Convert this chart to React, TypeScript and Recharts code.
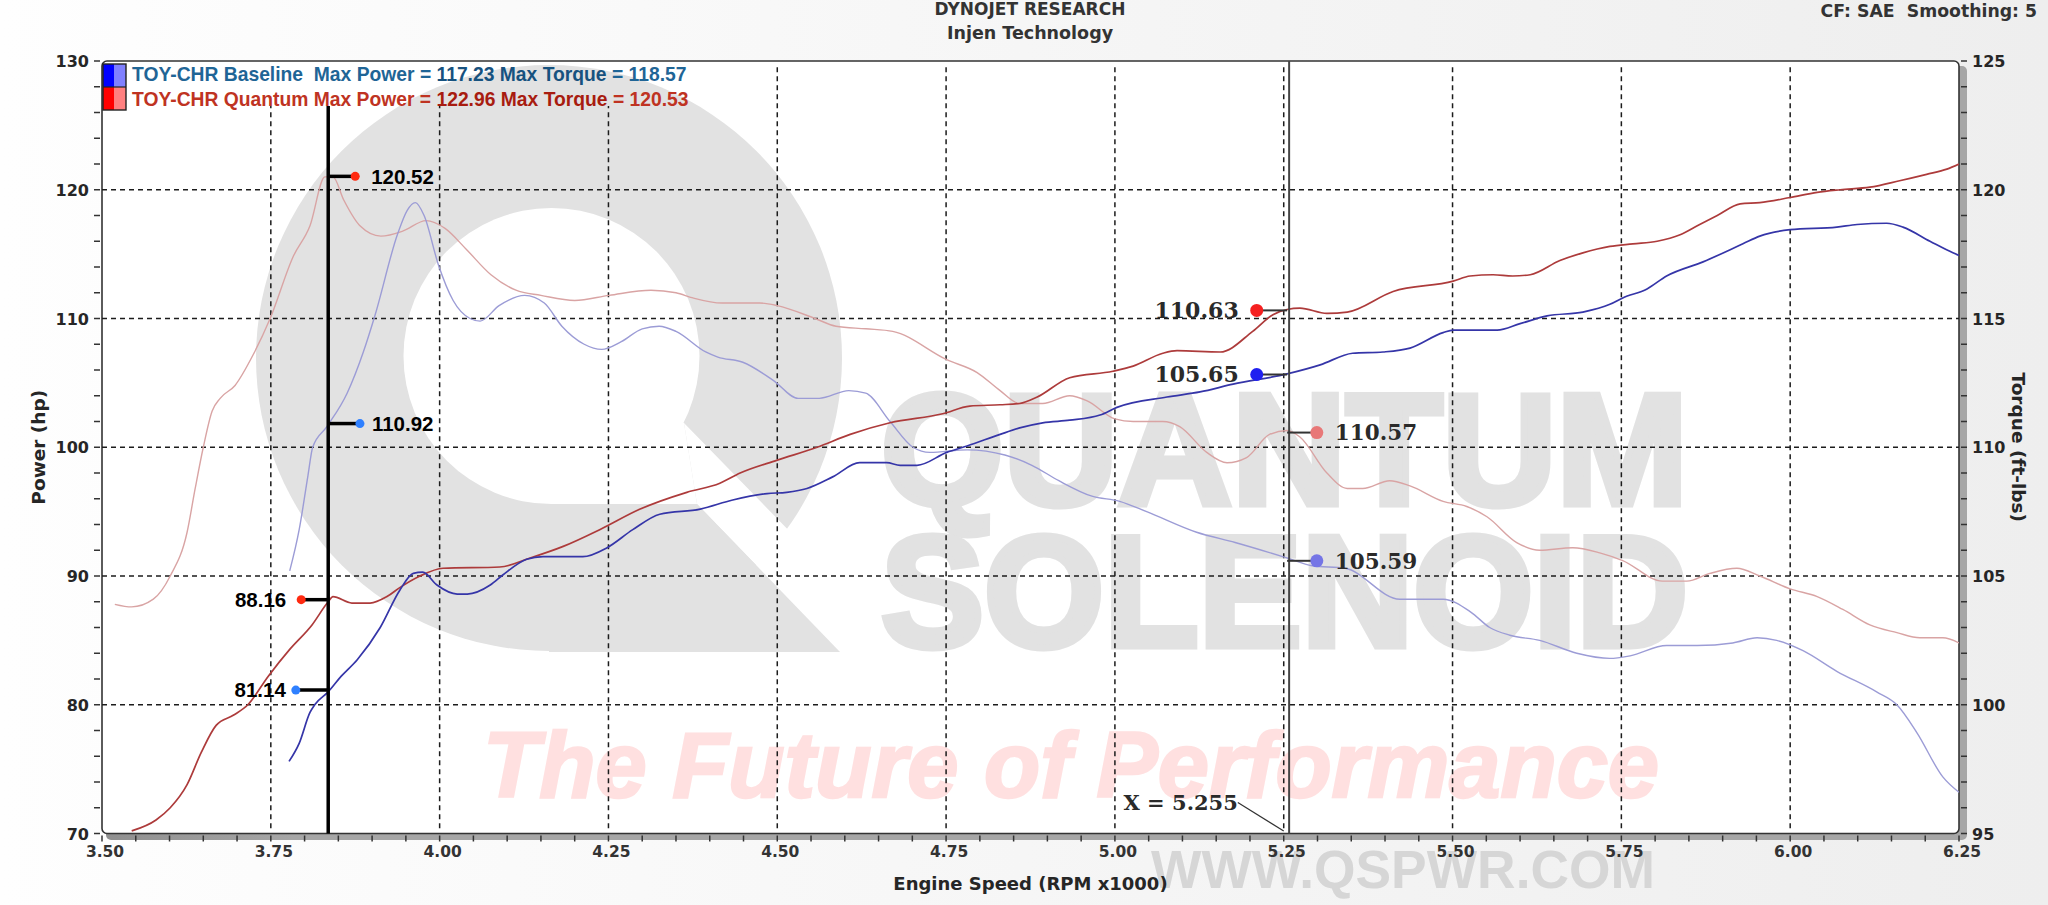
import {
  LineChart, Line, XAxis, YAxis, CartesianGrid, ReferenceLine, ReferenceDot,
} from 'recharts'

// --- axes ---
const rpmDomain = [3.5, 6.25]
const powerDomain = [70, 130]
const torqueDomain = [95, 125]
const rpmMajor = [3.5, 3.75, 4, 4.25, 4.5, 4.75, 5, 5.25, 5.5, 5.75, 6, 6.25]
const powerMajor = [70, 80, 90, 100, 110, 120, 130]
const torqueMajor = [95, 100, 105, 110, 115, 120, 125]
const rpmTicks = Array.from({ length: 56 }, (_, i) => Math.round((3.5 + i * 0.05) * 100) / 100)
const powerTicks = Array.from({ length: 31 }, (_, i) => 70 + i * 2)
const torqueTicks = Array.from({ length: 31 }, (_, i) => 95 + i)

// --- Quantum power (hp) ---
const quantumPowerRpm = [3.544, 3.58, 3.601, 3.626, 3.647, 3.669, 3.695, 3.716, 3.746, 3.778, 3.811, 3.835, 3.842, 3.87, 3.897, 3.922, 3.941, 3.971, 4.005, 4.089, 4.134, 4.183, 4.237, 4.297, 4.366, 4.415, 4.445, 4.5, 4.559, 4.608, 4.667, 4.745, 4.785, 4.83, 4.859, 4.885, 4.933, 4.997, 5.027, 5.071, 5.092, 5.156, 5.204, 5.234, 5.255, 5.274, 5.314, 5.344, 5.412, 5.501, 5.526, 5.56, 5.589, 5.615, 5.659, 5.693, 5.733, 5.767, 5.803, 5.837, 5.866, 5.892, 5.926, 5.955, 6, 6.04, 6.074, 6.118, 6.162, 6.202, 6.232, 6.25]
const quantumPower = [70.2, 71.05, 72, 73.8, 76.3, 78.4, 79.2, 80, 82.2, 84.3, 86.2, 88, 88.4, 87.9, 87.9, 88.4, 89.1, 90, 90.6, 90.7, 91.4, 92.3, 93.6, 95.2, 96.5, 97.2, 98, 99, 100, 101, 101.9, 102.6, 103.2, 103.3, 103.4, 103.9, 105.4, 105.9, 106.3, 107.3, 107.5, 107.4, 109, 110.3, 110.7, 110.8, 110.4, 110.5, 112.1, 112.9, 113.3, 113.4, 113.3, 113.4, 114.5, 115.1, 115.6, 115.8, 116, 116.5, 117.3, 118, 118.9, 119, 119.4, 119.8, 120, 120.2, 120.7, 121.2, 121.6, 122]

// --- Baseline power (hp) ---
const baselinePowerRpm = [3.777, 3.792, 3.808, 3.815, 3.835, 3.854, 3.878, 3.912, 3.941, 3.961, 3.975, 3.996, 4.026, 4.041, 4.075, 4.094, 4.129, 4.153, 4.212, 4.248, 4.286, 4.326, 4.386, 4.434, 4.485, 4.514, 4.544, 4.582, 4.622, 4.662, 4.682, 4.707, 4.751, 4.781, 4.83, 4.859, 4.893, 4.933, 4.978, 5.003, 5.077, 5.126, 5.175, 5.255, 5.304, 5.352, 5.397, 5.437, 5.486, 5.501, 5.566, 5.6, 5.64, 5.693, 5.733, 5.752, 5.788, 5.817, 5.871, 5.93, 5.955, 6, 6.069, 6.099, 6.143, 6.167, 6.207, 6.241, 6.25]
const baselinePower = [75.6, 77, 79.4, 80, 81, 82.2, 83.5, 86, 88.9, 90.2, 90.3, 89.3, 88.6, 88.6, 89.3, 90.1, 91.3, 91.5, 91.5, 92.2, 93.6, 94.8, 95.2, 95.9, 96.4, 96.5, 96.8, 97.7, 98.8, 98.8, 98.6, 98.6, 99.6, 100.1, 101, 101.5, 101.9, 102.1, 102.5, 103.1, 103.9, 104.3, 104.9, 105.7, 106.4, 107.3, 107.4, 107.7, 108.9, 109.1, 109.1, 109.6, 110.2, 110.5, 111.1, 111.6, 112.3, 113.3, 114.4, 115.8, 116.4, 116.9, 117.1, 117.3, 117.4, 117.1, 116, 115.1, 114.9]

// --- Quantum torque (ft-lbs) ---
const quantumTorqueRpm = [3.519, 3.544, 3.576, 3.601, 3.626, 3.638, 3.65, 3.663, 3.675, 3.697, 3.724, 3.749, 3.783, 3.808, 3.83, 3.842, 3.858, 3.882, 3.913, 3.946, 3.98, 4.008, 4.039, 4.076, 4.113, 4.15, 4.2, 4.251, 4.313, 4.35, 4.375, 4.418, 4.474, 4.5, 4.556, 4.587, 4.631, 4.671, 4.751, 4.796, 4.83, 4.859, 4.893, 4.933, 4.959, 5, 5.027, 5.071, 5.096, 5.136, 5.166, 5.195, 5.229, 5.255, 5.274, 5.314, 5.344, 5.367, 5.407, 5.437, 5.486, 5.521, 5.551, 5.595, 5.629, 5.678, 5.718, 5.752, 5.811, 5.847, 5.881, 5.921, 5.955, 6, 6.04, 6.078, 6.118, 6.158, 6.192, 6.226, 6.25]
const quantumTorque = [103.9, 103.8, 104.1, 105, 106.7, 108.4, 110, 111.4, 111.9, 112.4, 113.6, 115, 117.4, 118.6, 120.5, 120.5, 119.6, 118.6, 118.2, 118.4, 118.8, 118.5, 117.7, 116.7, 116.1, 115.9, 115.7, 115.9, 116.1, 116, 115.8, 115.6, 115.6, 115.5, 115, 114.7, 114.6, 114.5, 113.4, 112.9, 112.2, 111.7, 111.7, 112, 111.8, 111.1, 111, 111, 110.8, 109.8, 109.4, 109.6, 110.5, 110.65, 110.4, 109, 108.4, 108.4, 108.7, 108.5, 107.9, 107.7, 107.3, 106.3, 106, 106.1, 105.9, 105.6, 104.8, 104.8, 105.1, 105.3, 105, 104.5, 104.2, 103.7, 103.1, 102.8, 102.6, 102.6, 102.4]

// --- Baseline torque (ft-lbs) ---
const baselineTorqueRpm = [3.778, 3.792, 3.805, 3.812, 3.833, 3.863, 3.887, 3.904, 3.938, 3.952, 3.964, 3.977, 3.998, 4.02, 4.045, 4.06, 4.088, 4.126, 4.155, 4.181, 4.214, 4.24, 4.269, 4.3, 4.325, 4.35, 4.394, 4.412, 4.449, 4.494, 4.531, 4.562, 4.606, 4.631, 4.667, 4.701, 4.726, 4.781, 4.837, 4.877, 4.917, 4.966, 5.007, 5.047, 5.121, 5.178, 5.255, 5.292, 5.341, 5.422, 5.486, 5.527, 5.555, 5.585, 5.629, 5.684, 5.733, 5.763, 5.817, 5.862, 5.915, 5.951, 5.98, 6.019, 6.069, 6.128, 6.158, 6.188, 6.226, 6.25]
const baselineTorque = [105.2, 106.8, 108.9, 110, 110.8, 112.1, 113.7, 115.1, 118.3, 119.2, 119.5, 119, 117.1, 115.7, 115, 114.9, 115.5, 115.9, 115.6, 114.7, 114, 113.8, 114.1, 114.6, 114.7, 114.5, 113.7, 113.5, 113.3, 112.6, 111.9, 111.9, 112.2, 112.1, 111, 110, 109.8, 109.9, 109.7, 109.3, 108.7, 108.1, 107.9, 107.5, 106.7, 106.3, 105.7, 105.4, 105.3, 104.1, 104.1, 103.6, 103, 102.7, 102.5, 102, 101.8, 101.9, 102.3, 102.3, 102.4, 102.6, 102.5, 102.1, 101.3, 100.5, 100, 98.9, 97.2, 96.6]

// --- cursors and their readouts ---
const leftCursorRpm = 3.835
const rightCursorRpm = 5.255
const leftPowerReadouts = [88.16, 81.14]
const leftPowerDotRpm = [3.795, 3.787]
const leftTorqueReadouts = [120.52, 110.92]
const leftTorqueDotRpm = [3.875, 3.882]
const rightPowerReadouts = [110.63, 105.65]
const rightTorqueReadouts = [110.57, 105.59]
const rightPowerDotRpm = 5.21
const rightTorqueDotRpm = 5.299

const toPoints = (rpm: number[], y: number[]) => rpm.map((r, i) => ({ rpm: r, y: y[i] }))

const INK = '#262626'
const SANS = '"DejaVu Sans", sans-serif'
const ARIAL = '"Liberation Sans", Arial, sans-serif'
const SERIF = '"DejaVu Serif", serif'
const WATERMARK = '#e2e2e2'

function XTick({ x, y, payload }: any) {
  const major = rpmMajor.includes(payload.value)
  return (
    <g>
      <line x1={x} x2={x} y1={y} y2={y + 6} stroke="#333" strokeWidth={1.5} />
      {major && (
        <text x={x + 3} y={y + 21} textAnchor="middle" fontFamily={SANS} fontWeight={700} fontSize={15.5} fill="#333">
          {payload.value.toFixed(2)}
        </text>
      )}
    </g>
  )
}

function YTick({ x, y, payload, side, majors }: any) {
  const major = majors.includes(payload.value)
  const dir = side === 'left' ? -1 : 1
  return (
    <g>
      <line x1={x} x2={x + dir * 6} y1={y} y2={y} stroke="#333" strokeWidth={1.5} />
      {major && (
        <text
          x={side === 'left' ? x - 11 : x + 11}
          y={y + 6}
          textAnchor={side === 'left' ? 'end' : 'start'}
          fontFamily={SANS}
          fontWeight={700}
          fontSize={16}
          fill={INK}
        >
          {payload.value}
        </text>
      )}
    </g>
  )
}

// dot plus its number, the number sits at a fixed pixel offset from the dot
const cursorDot = (label: string, color: string, r: number, dx: number, font: string, size: number) => (p: any) => (
  <g>
    <circle cx={p.cx} cy={p.cy} r={r} fill={color} />
    <text
      x={p.cx + dx}
      y={p.cy + size * 0.36}
      textAnchor={dx < 0 ? 'end' : 'start'}
      fontFamily={font}
      fontWeight={700}
      fontSize={size}
      fill={font === SERIF ? '#2a2a2a' : '#000'}
    >
      {label}
    </text>
  </g>
)

function Backdrop() {
  return (
    <svg width={2048} height={905} style={{ position: 'absolute', left: 0, top: 0 }}>
      <defs>
        <linearGradient id="page" x1="0" x2="1" y1="0" y2="0">
          <stop offset="0" stopColor="#fefefe" />
          <stop offset="1" stopColor="#eeeeee" />
        </linearGradient>
        <linearGradient id="band" x1="0" x2="1" y1="0" y2="0">
          <stop offset="0" stopColor="#8f8f8f" />
          <stop offset="0.1" stopColor="#a6a6a6" />
          <stop offset="1" stopColor="#a6a6a6" />
        </linearGradient>
      </defs>
      <rect width={2048} height={905} fill="url(#page)" />

      <rect x={106} y={66} width={1861} height={774} rx={5} fill="url(#band)" />
      <rect x={102} y={61} width={1857} height={772.5} rx={5} fill="#fff" stroke="#333" strokeWidth={1.6} />

      {/* Q logo */}
      <circle cx={549} cy={358} r={293} fill={WATERMARK} />
      <polygon points="684,423 800,542 900,542 900,652 840,652 697,504" fill="#fff" />
      <polygon points="549,652 840,652 697,504 549,504" fill={WATERMARK} />
      <circle cx={551.5} cy={356} r={148} fill="#fff" />
      <polygon points="551,504 697,504 684,423 551,356" fill="#fff" />

      <text x={881} y={504} fontFamily={ARIAL} fontWeight={700} fontSize={158} fill={WATERMARK} stroke={WATERMARK} strokeWidth={7} textLength={807} lengthAdjust="spacingAndGlyphs">QUANTUM</text>
      <text x={881} y={646} fontFamily={ARIAL} fontWeight={700} fontSize={158} fill={WATERMARK} stroke={WATERMARK} strokeWidth={7} textLength={807} lengthAdjust="spacingAndGlyphs">SOLENOID</text>
      <text x={483} y={797} fontFamily={ARIAL} fontWeight={700} fontStyle="italic" fontSize={93} fill="#ffe0e0" stroke="#ffe0e0" strokeWidth={2.5} textLength={1176} lengthAdjust="spacingAndGlyphs">The Future of Performance</text>
      <text x={1151} y={888} fontFamily={ARIAL} fontWeight={700} fontSize={53} fill="#d6d6d6" textLength={504} lengthAdjust="spacingAndGlyphs">WWW.QSPWR.COM</text>

      {/* legend */}
      <rect x={103} y={64} width={11.5} height={23} fill="#0000ff" />
      <rect x={114.5} y={64} width={11.5} height={23} fill="#8080ff" />
      <rect x={103} y={87} width={11.5} height={23} fill="#ff0000" />
      <rect x={114.5} y={87} width={11.5} height={23} fill="#ff8080" />
      <rect x={103} y={64} width={23} height={46} fill="none" stroke="#222" strokeWidth={1.4} />
      <line x1={103} x2={126} y1={87} y2={87} stroke="#222" strokeWidth={1.2} />
      <text x={132} y={81} fontFamily={ARIAL} fontWeight={700} fontSize={19.3} fill="#1f6596" style={{ whiteSpace: 'pre' }}>
        TOY-CHR Baseline  Max Power = <tspan fill="#17527f">117.23 Max Torque</tspan> = 118.57
      </text>
      <text x={132} y={106} fontFamily={ARIAL} fontWeight={700} fontSize={19.3} fill="#bf3322" style={{ whiteSpace: 'pre' }}>
        TOY-CHR Quantum Max Power = <tspan fill="#a81c10">122.96 Max Torque</tspan> = 120.53
      </text>

      {/* header */}
      <text x={1030} y={15} textAnchor="middle" fontFamily={SANS} fontWeight={700} fontSize={17} fill="#333">DYNOJET RESEARCH</text>
      <text x={1030} y={39} textAnchor="middle" fontFamily={SANS} fontWeight={700} fontSize={17.5} fill="#333">Injen Technology</text>
      <text x={2037} y={17} textAnchor="end" fontFamily={SANS} fontWeight={700} fontSize={17.3} fill="#333" style={{ whiteSpace: 'pre' }}>CF: SAE  Smoothing: 5</text>
    </svg>
  )
}

export default function App() {
  // verticals stop under the legend strip on the left part of the plot
  const gridTop = (rpm: number) => (rpm < 4.4 ? 126.5 : 129.6)

  return (
    <div style={{ position: 'absolute', left: 0, top: 0, width: 2048, height: 905, overflow: 'hidden' }}>
      <Backdrop />
      <div style={{ position: 'absolute', left: 0, top: 0 }}>
        <LineChart width={2048} height={905} margin={{ top: 61, right: 0, bottom: 0, left: 0 }}>
          <CartesianGrid
            xAxisId="rpm"
            yAxisId="power"
            vertical={false}
            horizontalValues={powerMajor.slice(1, -1)}
            stroke="#1c1c1c"
            strokeWidth={1.5}
            strokeDasharray="5 4"
          />
          <XAxis
            xAxisId="rpm"
            dataKey="rpm"
            type="number"
            domain={rpmDomain}
            ticks={rpmTicks}
            interval={0}
            height={71.5}
            axisLine={false}
            tickLine={false}
            tickSize={0}
            tick={<XTick />}
            allowDataOverflow
            label={{ value: 'Engine Speed (RPM x1000)', position: 'insideBottom', offset: 15, fontFamily: SANS, fontWeight: 700, fontSize: 18, fill: INK }}
          />
          <YAxis
            yAxisId="power"
            orientation="left"
            type="number"
            domain={powerDomain}
            ticks={powerTicks}
            interval={0}
            width={102}
            axisLine={false}
            tickLine={false}
            tickSize={0}
            tick={<YTick side="left" majors={powerMajor} />}
            allowDataOverflow
            label={{ value: 'Power (hp)', angle: -90, position: 'insideLeft', offset: 38, textAnchor: 'middle', fontFamily: SANS, fontWeight: 700, fontSize: 18.5, fill: INK }}
          />
          <YAxis
            yAxisId="torque"
            orientation="right"
            type="number"
            domain={torqueDomain}
            ticks={torqueTicks}
            interval={0}
            width={89}
            axisLine={false}
            tickLine={false}
            tickSize={0}
            tick={<YTick side="right" majors={torqueMajor} />}
            allowDataOverflow
            label={{ value: 'Torque (ft-lbs)', angle: 90, position: 'insideRight', offset: 29, textAnchor: 'middle', fontFamily: SANS, fontWeight: 700, fontSize: 18.5, fill: INK }}
          />

          {rpmMajor.slice(1, -1).map(r => (
            <ReferenceLine
              key={r}
              xAxisId="rpm"
              yAxisId="power"
              segment={[{ x: r, y: 70.4 }, { x: r, y: gridTop(r) }]}
              stroke="#1c1c1c"
              strokeWidth={1.5}
              strokeDasharray="5 4"
            />
          ))}

          <Line xAxisId="rpm" yAxisId="torque" data={toPoints(quantumTorqueRpm, quantumTorque)} dataKey="y" name="Quantum Torque" stroke="#d9a4a4" strokeWidth={1.4} dot={false} type="monotone" isAnimationActive={false} />
          <Line xAxisId="rpm" yAxisId="torque" data={toPoints(baselineTorqueRpm, baselineTorque)} dataKey="y" name="Baseline Torque" stroke="#9c9cd6" strokeWidth={1.4} dot={false} type="monotone" isAnimationActive={false} />
          <Line xAxisId="rpm" yAxisId="power" data={toPoints(quantumPowerRpm, quantumPower)} dataKey="y" name="Quantum Power" stroke="#ad3b3b" strokeWidth={1.7} dot={false} type="monotone" isAnimationActive={false} />
          <Line xAxisId="rpm" yAxisId="power" data={toPoints(baselinePowerRpm, baselinePower)} dataKey="y" name="Baseline Power" stroke="#3535a8" strokeWidth={1.7} dot={false} type="monotone" isAnimationActive={false} />

          {/* black cursor at 3.83 */}
          <ReferenceLine xAxisId="rpm" yAxisId="power" segment={[{ x: leftCursorRpm, y: 70 }, { x: leftCursorRpm, y: 126.5 }]} stroke="#000" strokeWidth={3.5} />
          {leftTorqueReadouts.map((v, i) => (
            <ReferenceLine key={v} xAxisId="rpm" yAxisId="torque" segment={[{ x: leftCursorRpm, y: v }, { x: leftTorqueDotRpm[i], y: v }]} stroke="#000" strokeWidth={3.5} />
          ))}
          {leftPowerReadouts.map((v, i) => (
            <ReferenceLine key={v} xAxisId="rpm" yAxisId="power" segment={[{ x: leftCursorRpm, y: v }, { x: leftPowerDotRpm[i], y: v }]} stroke="#000" strokeWidth={3.5} />
          ))}
          <ReferenceDot xAxisId="rpm" yAxisId="torque" x={leftTorqueDotRpm[0]} y={leftTorqueReadouts[0]} shape={cursorDot('120.52', '#ff2a10', 4.5, 16, ARIAL, 20.5)} />
          <ReferenceDot xAxisId="rpm" yAxisId="torque" x={leftTorqueDotRpm[1]} y={leftTorqueReadouts[1]} shape={cursorDot('110.92', '#2f80ff', 4.5, 12, ARIAL, 20.5)} />
          <ReferenceDot xAxisId="rpm" yAxisId="power" x={leftPowerDotRpm[0]} y={leftPowerReadouts[0]} shape={cursorDot('88.16', '#ff2a10', 4.5, -15, ARIAL, 20.5)} />
          <ReferenceDot xAxisId="rpm" yAxisId="power" x={leftPowerDotRpm[1]} y={leftPowerReadouts[1]} shape={cursorDot('81.14', '#2f80ff', 4.5, -10, ARIAL, 20.5)} />

          {/* thin cursor at 5.255 */}
          <ReferenceLine xAxisId="rpm" yAxisId="power" x={rightCursorRpm + 0.003} stroke="#444" strokeWidth={2} />
          {rightPowerReadouts.map(v => (
            <ReferenceLine key={v} xAxisId="rpm" yAxisId="power" segment={[{ x: rightCursorRpm, y: v }, { x: rightPowerDotRpm, y: v }]} stroke="#333" strokeWidth={2} />
          ))}
          {rightTorqueReadouts.map(v => (
            <ReferenceLine key={v} xAxisId="rpm" yAxisId="torque" segment={[{ x: rightCursorRpm, y: v }, { x: rightTorqueDotRpm, y: v }]} stroke="#333" strokeWidth={2} />
          ))}
          <ReferenceDot xAxisId="rpm" yAxisId="power" x={rightPowerDotRpm} y={rightPowerReadouts[0]} shape={cursorDot('110.63', '#f52020', 6.5, -18, SERIF, 22)} />
          <ReferenceDot xAxisId="rpm" yAxisId="power" x={rightPowerDotRpm} y={rightPowerReadouts[1]} shape={cursorDot('105.65', '#2020f0', 6.5, -18, SERIF, 22)} />
          <ReferenceDot xAxisId="rpm" yAxisId="torque" x={rightTorqueDotRpm} y={rightTorqueReadouts[0]} shape={cursorDot('110.57', '#e87878', 6.5, 18, SERIF, 21.5)} />
          <ReferenceDot xAxisId="rpm" yAxisId="torque" x={rightTorqueDotRpm} y={rightTorqueReadouts[1]} shape={cursorDot('105.59', '#7575e6', 6.5, 18, SERIF, 21.5)} />

          {/* leader for the X readout */}
          <ReferenceLine xAxisId="rpm" yAxisId="power" segment={[{ x: 5.182, y: 72.4 }, { x: 5.25, y: 70.2 }]} stroke="#333" strokeWidth={1.2} />
          <ReferenceDot xAxisId="rpm" yAxisId="power" x={5.182} y={72.4} shape={(p: any) => (
            <text x={p.cx} y={p.cy + 7} textAnchor="end" fontFamily={SERIF} fontWeight={700} fontSize={21} fill="#2a2a2a">X = {rightCursorRpm.toFixed(3)}</text>
          )} />
        </LineChart>
      </div>
    </div>
  )
}
